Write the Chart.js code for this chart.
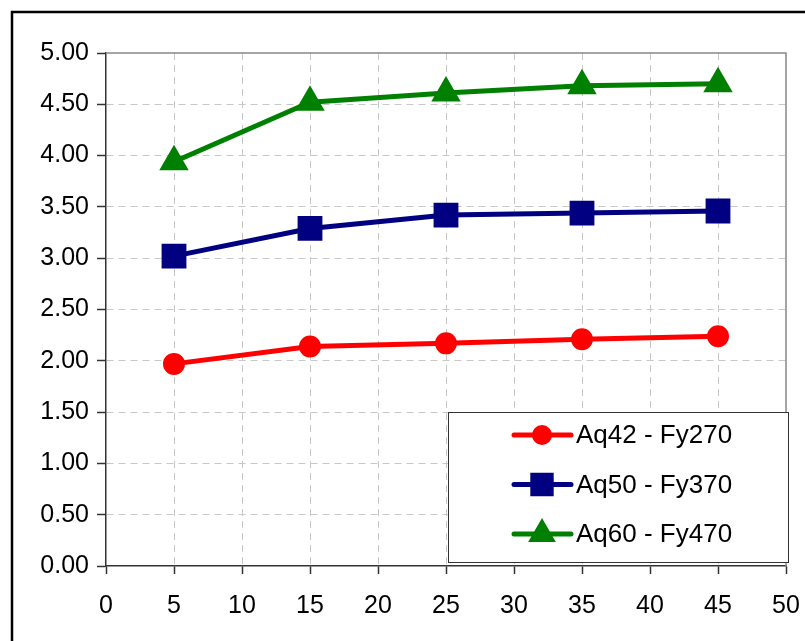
<!DOCTYPE html>
<html>
<head>
<meta charset="utf-8">
<script src="https://cdn.jsdelivr.net/npm/chart.js@4.4.0/dist/chart.umd.min.js"></script>
<style>
body { margin: 0; background: #fff; }
canvas { display: block; }
</style>
</head>
<body>
<canvas id="graf" width="805" height="641"></canvas>
<script>
// valores
const xVals = [5, 15, 25, 35, 45];
const aq42 = [1.97, 2.14, 2.17, 2.21, 2.24];
const aq50 = [3.02, 3.29, 3.42, 3.44, 3.46];
const aq60 = [3.94, 4.52, 4.61, 4.68, 4.70];
const seriesNames = ['Aq42 - Fy270', 'Aq50 - Fy370', 'Aq60 - Fy470'];

const FONT = "'Liberation Sans', Arial, sans-serif";
Chart.defaults.font.family = FONT;

const toPoints = (ys) => ys.map((y, i) => ({ x: xVals[i], y: y }));

// borde exterior negro y marco del area
const marco = {
    id: 'marco',
    beforeDraw(chart) {
        const ctx = chart.ctx;
        ctx.save();
        ctx.fillStyle = '#fff';
        ctx.fillRect(0, 0, chart.width, chart.height);
        ctx.strokeStyle = '#000';
        ctx.lineWidth = 2.5;
        ctx.strokeRect(12, 12, 900, 900);
        ctx.restore();
    },
    beforeDatasetsDraw(chart) {
        const { ctx, chartArea: a } = chart;
        ctx.save();
        ctx.strokeStyle = '#888';
        ctx.lineWidth = 1.5;
        ctx.beginPath();
        ctx.moveTo(a.left, a.top);
        ctx.lineTo(a.right, a.top);
        ctx.lineTo(a.right, a.bottom);
        ctx.stroke();
        ctx.restore();
    }
};

// leyenda dentro del grafico
const leyenda = {
    id: 'leyenda',
    afterDatasetsDraw(chart) {
        const ctx = chart.ctx;
        ctx.save();
        ctx.fillStyle = '#fff';
        ctx.fillRect(448, 412, 340, 150);
        ctx.strokeStyle = '#333';
        ctx.lineWidth = 1;
        ctx.strokeRect(448.5, 412.5, 340, 150);
        chart.data.datasets.forEach((ds, i) => {
            const y = 435 + i * 49.5;
            ctx.strokeStyle = ds.borderColor;
            ctx.lineWidth = 5;
            ctx.lineCap = 'round';
            ctx.beginPath();
            ctx.moveTo(514, y);
            ctx.lineTo(571, y);
            ctx.stroke();
            ctx.fillStyle = ds.backgroundColor;
            ctx.strokeStyle = ds.borderColor;
            Chart.helpers.drawPoint(ctx, {
                pointStyle: ds.pointStyle,
                radius: ds.pointRadius - 1,
                borderWidth: 1,
                rotation: 0
            }, 542, y);
            ctx.fillStyle = '#000';
            ctx.font = '26px ' + FONT;
            ctx.textBaseline = 'middle';
            ctx.textAlign = 'left';
            ctx.fillText(ds.label, 576, y + 1);
        });
        ctx.restore();
    }
};

const edgeColor = (lo, hi) => (ctx) =>
    (ctx.tick && (ctx.tick.value === lo || ctx.tick.value === hi)) ? 'rgba(0,0,0,0)' : '#c8c8c8';

new Chart(document.getElementById('graf').getContext('2d'), {
    type: 'line',
    data: {
        datasets: [
            {
                label: seriesNames[0],
                data: toPoints(aq42),
                borderColor: '#ff0000',
                backgroundColor: '#ff0000',
                borderWidth: 5,
                pointStyle: 'circle',
                pointRadius: 8.5,
                borderCapStyle: 'round',
                borderJoinStyle: 'round'
            },
            {
                label: seriesNames[1],
                data: toPoints(aq50),
                borderColor: '#000080',
                backgroundColor: '#000080',
                borderWidth: 5,
                pointStyle: 'rect',
                pointRadius: 14,
                borderCapStyle: 'round',
                borderJoinStyle: 'round'
            },
            {
                label: seriesNames[2],
                data: toPoints(aq60),
                borderColor: '#008000',
                backgroundColor: '#008000',
                borderWidth: 5,
                pointStyle: 'triangle',
                pointRadius: 12,
                borderCapStyle: 'round',
                borderJoinStyle: 'round'
            }
        ]
    },
    options: {
        responsive: false,
        animation: false,
        layout: { padding: { top: 53, right: 19, left: 0, bottom: 0 } },
        plugins: {
            legend: { display: false },
            tooltip: { enabled: false }
        },
        scales: {
            x: {
                type: 'linear',
                min: 0,
                max: 50,
                ticks: {
                    stepSize: 5,
                    padding: 17,
                    color: '#000',
                    font: { size: 25 },
                    maxRotation: 0
                },
                grid: {
                    color: edgeColor(0, 50),
                    lineWidth: 1,
                    tickLength: 8,
                    tickColor: '#333',
                    tickWidth: 1.5
                },
                border: { display: true, color: '#333', width: 1.5, dash: [7, 5] },
                afterFit: (s) => {
                    s.height = 75;
                    s.paddingLeft = 0;
                    s.paddingRight = 0;
                }
            },
            y: {
                min: 0,
                max: 5,
                ticks: {
                    stepSize: 0.5,
                    padding: 8,
                    color: '#000',
                    font: { size: 25 },
                    callback: (v) => v.toFixed(2)
                },
                grid: {
                    color: edgeColor(0, 5),
                    lineWidth: 1,
                    tickLength: 9,
                    tickColor: '#333',
                    tickWidth: 1.5
                },
                border: { display: true, color: '#333', width: 1.5, dash: [7, 5] },
                afterFit: (s) => {
                    s.width = 106;
                    s.paddingTop = 0;
                    s.paddingBottom = 0;
                }
            }
        }
    },
    plugins: [marco, leyenda]
});
</script>
</body>
</html>
